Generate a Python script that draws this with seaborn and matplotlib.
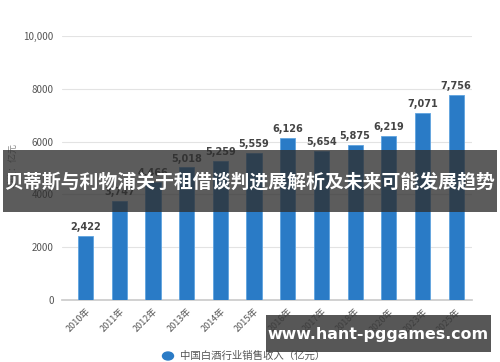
import matplotlib
matplotlib.use("Agg")
import matplotlib.pyplot as plt
import seaborn as sns
import pandas as pd
from matplotlib.patches import Rectangle

years = ["2010年", "2011年", "2012年", "2013年", "2014年", "2015年",
         "2016年", "2017年", "2018年", "2020年", "2023年", "2025年"]
revenue = [2422, 3747, 4466, 5018, 5259, 5559, 6126, 5654, 5875, 6219, 7071, 7756]
ytick_vals = [0, 2000, 4000, 6000, 8000, 10000]
ytick_labels = ["0", "2000", "4000", "6000", "8000", "10,000"]
legend_label = "中国白酒行业销售收入（亿元）"
unit_label = "单位：亿元"
banner_text = "贝蒂斯与利物浦关于租借谈判进展解析及未来可能发展趋势"
site_text = "www.hant-pggames.com"

sns.set_theme(style="white")
plt.rcParams['font.family'] = ['Noto Sans CJK SC', 'DejaVu Sans']

df = pd.DataFrame({"year": years, "revenue": revenue})

fig = plt.figure(figsize=(5, 3.62), dpi=100)
ax = fig.add_axes([0.124, 0.171, 0.82, 0.730])
sns.barplot(data=df, x="year", y="revenue", color="#2a7bc6", saturation=1,
            width=0.45, edgecolor="#5fa3df", linewidth=0.6, ax=ax, zorder=3)

ax.set_ylim(0, 10000)
ax.set_xlim(-0.70, 11.47)
ax.set_yticks(ytick_vals)
ax.set_yticklabels(ytick_labels, fontsize=7, color="#555555")
ax.yaxis.grid(True, color="#e3e3e3", linewidth=0.8, zorder=0)
ax.set_xticks(range(len(years)))
ax.set_xticklabels(years, rotation=45, ha="right", rotation_mode="anchor",
                   fontsize=6.5, color="#555555")
ax.tick_params(axis="x", length=3, color="#cccccc", pad=2)
ax.tick_params(axis="y", length=0, pad=6)
ax.set_xlabel("")
ax.set_ylabel("")
for s in ["top", "right", "left"]:
    ax.spines[s].set_visible(False)
ax.spines["bottom"].set_color("#cccccc")

for i, v in enumerate(revenue):
    ax.text(i, v + 150, f"{v:,}", ha="center", va="bottom", fontsize=7,
            fontweight="bold", color="#444444", family="DejaVu Sans", zorder=4)

fig.text(13 / 500, 1 - 165 / 362, unit_label, rotation=90, ha="center",
         va="center", fontsize=6.5, color="#888888")

# legend
fig.patches.append(plt.Circle((168 / 500, 1 - 356 / 362), 0.011,
                              transform=fig.transFigure, color="#2a7bc6",
                              figure=fig))
fig.text(180 / 500, 1 - 356 / 362, legend_label, ha="left", va="center",
         fontsize=7.5, color="#555555")

# banner overlay
fig.patches.append(Rectangle((3 / 500, 1 - 212 / 362), 494 / 500, 62 / 362,
                             transform=fig.transFigure, facecolor="#2e2e2e",
                             alpha=0.78, edgecolor="none", figure=fig, zorder=10))
fig.text(0.5, 1 - 182 / 362, banner_text, ha="center", va="center",
         fontsize=13.6, fontweight="bold", color="white", zorder=11)

# site box
fig.patches.append(Rectangle((266 / 500, 1 - 352 / 362), 225 / 500, 37 / 362,
                             transform=fig.transFigure, facecolor="#3a3a3a",
                             alpha=0.85, edgecolor="none", figure=fig, zorder=10))
fig.text(378 / 500, 1 - 334 / 362, site_text, ha="center", va="center",
         fontsize=11.4, fontweight="bold", color="white", family="DejaVu Sans",
         zorder=11)

fig.savefig("out.png", dpi=100)
